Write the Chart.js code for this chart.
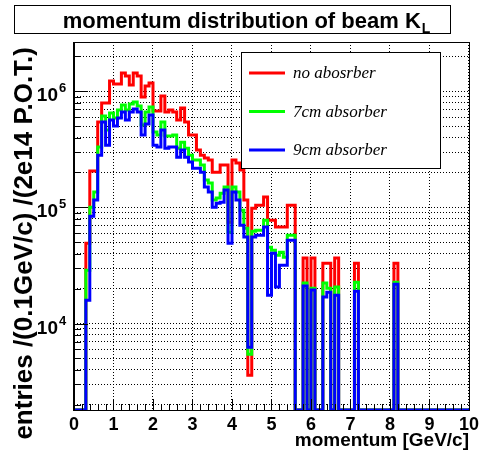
<!DOCTYPE html>
<html>
<head>
<meta charset="utf-8">
<title>momentum distribution of beam K_L</title>
<script src="https://cdn.jsdelivr.net/npm/chart.js@4.4.1/dist/chart.umd.min.js"></script>
<style>
  html, body { margin: 0; padding: 0; background: #fff; }
  #wrap { width: 483px; height: 460px; }
</style>
</head>
<body>
<div id="wrap"><canvas id="klChart" width="483" height="460"></canvas></div>
<script>
// 100 bins of 0.1 GeV/c from 0 to 10 GeV/c, entries per bin (0 = empty bin)
const binWidth = 0.1;

const noAbsorber = [
    0, 0, 0, 49200, 206000, 206000, 544000, 793000, 793000, 1227000,
    1156000, 1156000, 1438000, 1355000, 1133000, 1438000, 1355000, 893000, 1111000, 1179000,
    677000, 677000, 911000, 663000, 690000, 663000, 566000, 718000, 544000, 420000,
    420000, 312000, 282000, 266000, 256000, 201000, 201000, 232000, 232000, 74700,
    256000, 241000, 210000, 115600, 3580, 98600, 104600, 104600, 122700, 77700,
    77700, 67700, 67700, 67700, 104600, 104600, 0, 0, 36600, 0,
    36600, 0, 0, 33100, 33100, 0, 36600, 0, 0, 0,
    0, 33100, 0, 0, 0, 0, 0, 0, 0, 0,
    0, 33100, 0, 0, 0, 0, 0, 0, 0, 0,
    0, 0, 0, 0, 0, 0, 0, 0, 0, 0
];

const absorber7cm = [
    0, 0, 0, 28800, 100600, 135500, 331000, 612000, 464000, 650000,
    589000, 690000, 762000, 690000, 777000, 809000, 747000, 512000, 663000, 732000,
    446000, 420000, 544000, 412000, 412000, 420000, 324000, 365000, 324000, 282000,
    256000, 256000, 232000, 172000, 162000, 115600, 120300, 132800, 150000, 61200,
    150000, 135500, 94800, 66300, 5440, 62500, 63700, 63700, 77700, 45500,
    42800, 38800, 41200, 37300, 57700, 57700, 0, 0, 22300, 0,
    20100, 0, 0, 22300, 20100, 0, 20600, 0, 0, 0,
    0, 22700, 0, 0, 0, 0, 0, 0, 0, 0,
    0, 22700, 0, 0, 0, 0, 0, 0, 0, 0,
    0, 0, 0, 0, 0, 0, 0, 0, 0, 0
];

const absorber9cm = [
    0, 0, 0, 15900, 84100, 115600, 282000, 544000, 344000, 566000,
    502000, 589000, 663000, 566000, 663000, 704000, 663000, 420000, 522000, 625000,
    344000, 331000, 464000, 324000, 331000, 331000, 271000, 312000, 271000, 246000,
    218000, 218000, 201000, 150000, 135500, 100600, 108900, 111100, 141000, 49200,
    135500, 115600, 70400, 55500, 6250, 55500, 57700, 57700, 67700, 17500,
    40400, 20600, 31800, 31800, 52200, 52200, 0, 0, 21000, 0,
    19400, 0, 0, 16900, 18600, 0, 17500, 0, 0, 0,
    0, 19000, 0, 0, 0, 0, 0, 0, 0, 0,
    0, 21800, 0, 0, 0, 0, 0, 0, 0, 0,
    0, 0, 0, 0, 0, 0, 0, 0, 0, 0
];

const seriesLabels = ['no abosrber', '7cm absorber', '9cm absorber'];
const seriesColors = ['#ff0000', '#00ff00', '#0000ff'];

// axes
const xMin = 0, xMax = 10;
const yMin = 1800, yMax = 2.66e6;
const yDecades = [4, 5, 6];
const yGrid = [];
for (let n = 3; n <= 6; n++) {
    for (let k = 1; k <= 9; k++) {
        const v = k * Math.pow(10, n);
        if (v >= yMin && v <= yMax) yGrid.push(v);
    }
}

const sansBold = "'Liberation Sans', Arial, Helvetica, sans-serif";
const serif = "'Liberation Serif', 'Times New Roman', serif";

// step outline: one point per bin low edge + closing point at the last edge
function histPoints(counts) {
    const pts = counts.map((c, i) => ({ x: +(i * binWidth).toFixed(1), y: c > 0 ? c : yMin }));
    pts.push({ x: xMax, y: pts[pts.length - 1].y });
    return pts;
}

// drawn in ROOT order: red first, blue last (on top)
const datasets = [noAbsorber, absorber7cm, absorber9cm].map((counts, i) => ({
    label: seriesLabels[i],
    data: histPoints(counts),
    borderColor: seriesColors[i],
    backgroundColor: seriesColors[i],
    borderWidth: 3,
    stepped: 'before',
    pointRadius: 0,
    fill: false,
    order: 2 - i,
    borderJoinStyle: 'miter',
    borderCapStyle: 'butt'
}));

// ROOT style frame, inner ticks, titles and legend box
const rootStyle = {
    id: 'rootStyle',
    afterDatasetsDraw(chart) {
        const { ctx, chartArea: a, scales: { x, y } } = chart;
        ctx.save();
        ctx.strokeStyle = '#000';
        ctx.lineWidth = 1;
        ctx.strokeRect(a.left + 0.5, a.top + 0.5, a.right - a.left, a.bottom - a.top);
        ctx.fillStyle = '#000';
        ctx.fillRect(a.left - 1, a.top, 2, a.bottom - a.top + 1);

        ctx.beginPath();
        yGrid.forEach(v => {
            const py = Math.round(y.getPixelForValue(v)) + 0.5;
            const major = Math.abs(Math.log10(v) - Math.round(Math.log10(v))) < 1e-9;
            ctx.moveTo(a.left, py);
            ctx.lineTo(a.left + (major ? 14 : 7), py);
        });
        for (let i = 0; i <= 50; i++) {
            const v = i * 0.2;
            const px = Math.round(x.getPixelForValue(v)) + 0.5;
            const major = i % 5 === 0;
            ctx.moveTo(px, a.bottom);
            ctx.lineTo(px, a.bottom - (major ? 11 : 6));
        }
        ctx.stroke();
        ctx.restore();
    },
    afterDraw(chart) {
        const { ctx, chartArea: a, scales: { y } } = chart;
        ctx.save();
        ctx.fillStyle = '#000';

        // y labels 10^n
        yDecades.forEach(n => {
            const py = y.getPixelForValue(Math.pow(10, n));
            ctx.font = 'bold 19px ' + sansBold;
            ctx.textAlign = 'right';
            ctx.textBaseline = 'alphabetic';
            ctx.fillText('10', 58, py + 10);
            ctx.font = 'bold 13px ' + sansBold;
            ctx.textAlign = 'left';
            ctx.fillText(String(n), 59, py + 1);
        });

        // y title, right aligned just below the top of the axis
        ctx.save();
        ctx.translate(25, a.top + 5);
        ctx.rotate(-Math.PI / 2);
        ctx.font = 'bold 26px ' + sansBold;
        ctx.textAlign = 'right';
        ctx.textBaseline = 'middle';
        ctx.fillText('entries /(0.1GeV/c) /(2e14 P.O.T.)', 0, 0);
        ctx.restore();

        // title box
        ctx.fillStyle = '#fff';
        ctx.fillRect(14, 5, 436, 28);
        ctx.strokeStyle = '#000';
        ctx.lineWidth = 1;
        ctx.strokeRect(14.5, 5.5, 436, 28);
        ctx.fillStyle = '#000';
        const main = 'momentum distribution of beam K';
        ctx.font = 'bold 22px ' + sansBold;
        const wMain = ctx.measureText(main).width;
        ctx.font = 'bold 14px ' + sansBold;
        const wSub = ctx.measureText('L').width;
        const x0 = 246 - (wMain + wSub) / 2;
        ctx.font = 'bold 22px ' + sansBold;
        ctx.textAlign = 'left';
        ctx.textBaseline = 'alphabetic';
        ctx.fillText(main, x0, 28);
        ctx.font = 'bold 14px ' + sansBold;
        ctx.fillText('L', x0 + wMain + 1, 33);

        // legend
        ctx.fillStyle = '#fff';
        ctx.fillRect(241, 52, 199, 116);
        ctx.strokeRect(241.5, 52.5, 199, 116);
        const rows = [73, 111.5, 150];
        chart.data.datasets.forEach((ds, i) => {
            ctx.strokeStyle = ds.borderColor;
            ctx.lineWidth = 3;
            ctx.beginPath();
            ctx.moveTo(249, rows[i]);
            ctx.lineTo(285, rows[i]);
            ctx.stroke();
            ctx.fillStyle = '#000';
            ctx.font = 'italic 17px ' + serif;
            ctx.textAlign = 'left';
            ctx.textBaseline = 'middle';
            ctx.fillText(ds.label, 293, rows[i] + 1);
        });
        ctx.restore();
    }
};

new Chart(document.getElementById('klChart'), {
    type: 'line',
    data: { datasets: datasets },
    options: {
        responsive: false,
        animation: false,
        devicePixelRatio: 1,
        layout: { padding: { top: 42, right: 14, bottom: 0, left: 0 } },
        plugins: {
            legend: { display: false },
            tooltip: { enabled: false },
            title: { display: false }
        },
        scales: {
            x: {
                type: 'linear',
                min: xMin,
                max: xMax,
                afterFit: scale => { scale.height = 50; },
                ticks: {
                    stepSize: 1,
                    color: '#000',
                    padding: 4,
                    maxRotation: 0,
                    font: { family: sansBold, size: 18, weight: 'bold' }
                },
                grid: { color: '#000', lineWidth: 1, drawTicks: false },
                border: { display: false, dash: [1, 2] },
                title: {
                    display: true,
                    text: 'momentum [GeV/c]',
                    align: 'end',
                    color: '#000',
                    padding: { top: 0, bottom: 8 },
                    font: { family: sansBold, size: 19, weight: 'bold' }
                }
            },
            y: {
                type: 'logarithmic',
                min: yMin,
                max: yMax,
                afterFit: scale => { scale.width = 74; },
                afterBuildTicks: scale => { scale.ticks = yGrid.map(v => ({ value: v })); },
                ticks: { display: false },
                grid: { color: '#000', lineWidth: 1, drawTicks: false },
                border: { display: false, dash: [1, 2] }
            }
        }
    },
    plugins: [rootStyle]
});
</script>
</body>
</html>
